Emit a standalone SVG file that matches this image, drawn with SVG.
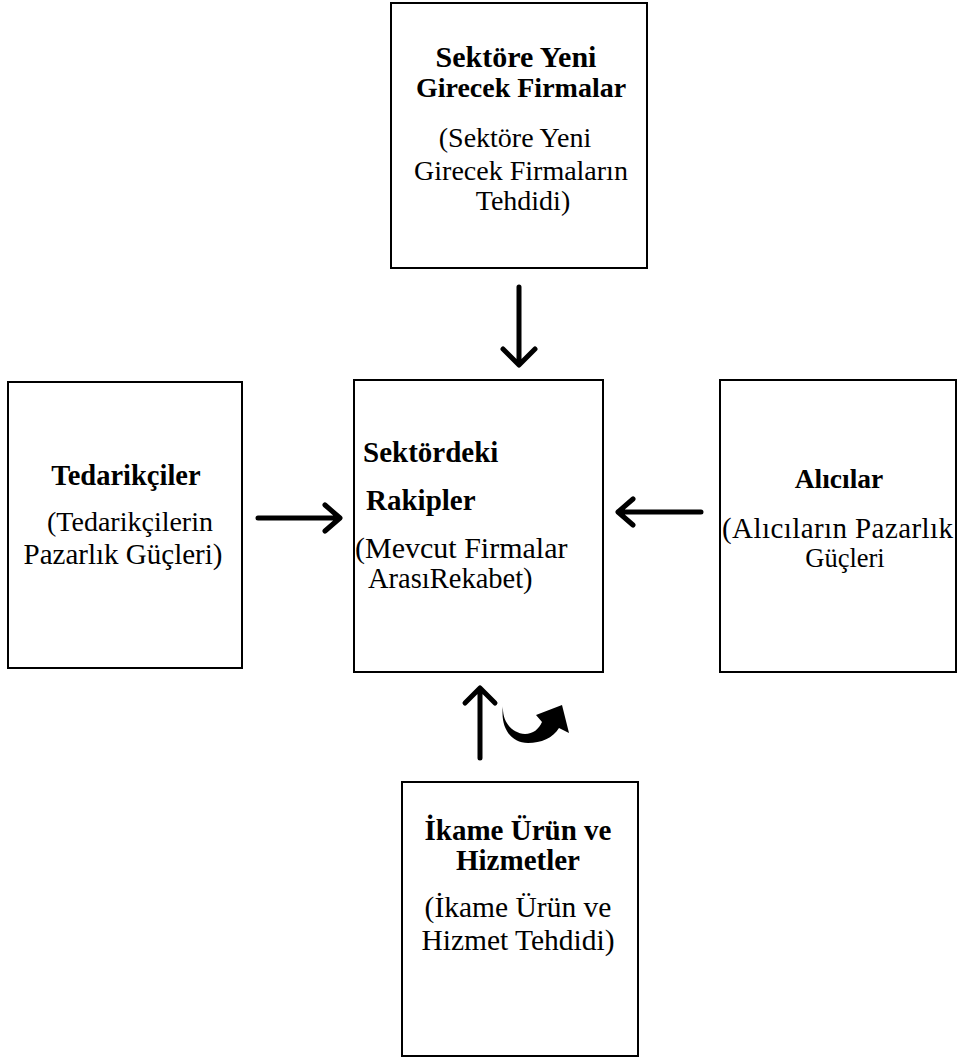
<svg xmlns="http://www.w3.org/2000/svg" width="957" height="1060" viewBox="0 0 957 1060">
<style>
.box{fill:#fff;stroke:#000;stroke-width:2}
.b{font-family:"Liberation Serif","Times New Roman",serif;font-weight:bold;font-size:28px;fill:#000}
.r{font-family:"Liberation Serif","Times New Roman",serif;font-size:28px;fill:#000}
.m{text-anchor:middle}
.arr{fill:none;stroke:#000;stroke-width:5;stroke-linecap:round;stroke-linejoin:round}
</style>
<rect width="957" height="1060" fill="#fff"/>
<g id="node-top">
<rect class="box" x="391" y="3" width="256" height="265"/>
<text class="b m" x="516" y="67" style="font-size:30px">Sektöre Yeni</text>
<text class="b m" x="521" y="97">Girecek Firmalar</text>
<text class="r m" x="515" y="147">(Sektöre Yeni</text>
<text class="r m" x="521" y="180">Girecek Firmaların</text>
<text class="r m" x="523" y="210">Tehdidi)</text>
</g>
<g id="node-left">
<rect class="box" x="8" y="382" width="234" height="286"/>
<text class="b m" x="126" y="485" style="font-size:28.5px">Tedarikçiler</text>
<text class="r m" x="130" y="531">(Tedarikçilerin</text>
<text class="r m" x="123" y="564" style="font-size:29px">Pazarlık Güçleri)</text>
</g>
<g id="node-center">
<rect class="box" x="354" y="380" width="249" height="292"/>
<text class="b" x="363" y="462" style="font-size:29px">Sektördeki</text>
<text class="b" x="366" y="510" style="font-size:29px">Rakipler</text>
<text class="r" x="355" y="558" style="font-size:30px">(Mevcut Firmalar</text>
<text class="r" x="368" y="588" style="font-size:28.5px">ArasıRekabet)</text>
</g>
<g id="node-right">
<rect class="box" x="720" y="380" width="236" height="292"/>
<text class="b m" x="839" y="488" style="font-size:27.5px">Alıcılar</text>
<text class="r" x="722" y="538" style="font-size:29px" textLength="231">(Alıcıların Pazarlık</text>
<text class="r m" x="845" y="567" style="font-size:26.5px">Güçleri</text>
</g>
<g id="node-bottom">
<rect class="box" x="402" y="782" width="236" height="274"/>
<text class="b m" x="518" y="840" style="font-size:29px">İkame Ürün ve</text>
<text class="b m" x="518" y="870" style="font-size:29px">Hizmetler</text>
<text class="r m" x="518" y="917" style="font-size:29.5px">(İkame Ürün ve</text>
<text class="r m" x="518" y="950" style="font-size:29.5px">Hizmet Tehdidi)</text>
</g>
<g id="connectors">
<path class="arr" d="M519,287 V364 M503,349 L519,365 L535,349"/>
<path class="arr" d="M258,518 H339 M325,505 L340,518 L325,531"/>
<path class="arr" d="M701,512 H619 M633,499 L618,512 L633,525"/>
<path class="arr" d="M480,758 V689 M465,703 L480,688 L495,703"/>
<path d="M503,706 C502,722 512,733 525,734 C533,734 539,729 542,722 L536,715 L562,705 L569,733 L559,728 C553,738 541,743 528,743 C511,743 500,728 503,706 Z" fill="#000"/>
</g>
</svg>
